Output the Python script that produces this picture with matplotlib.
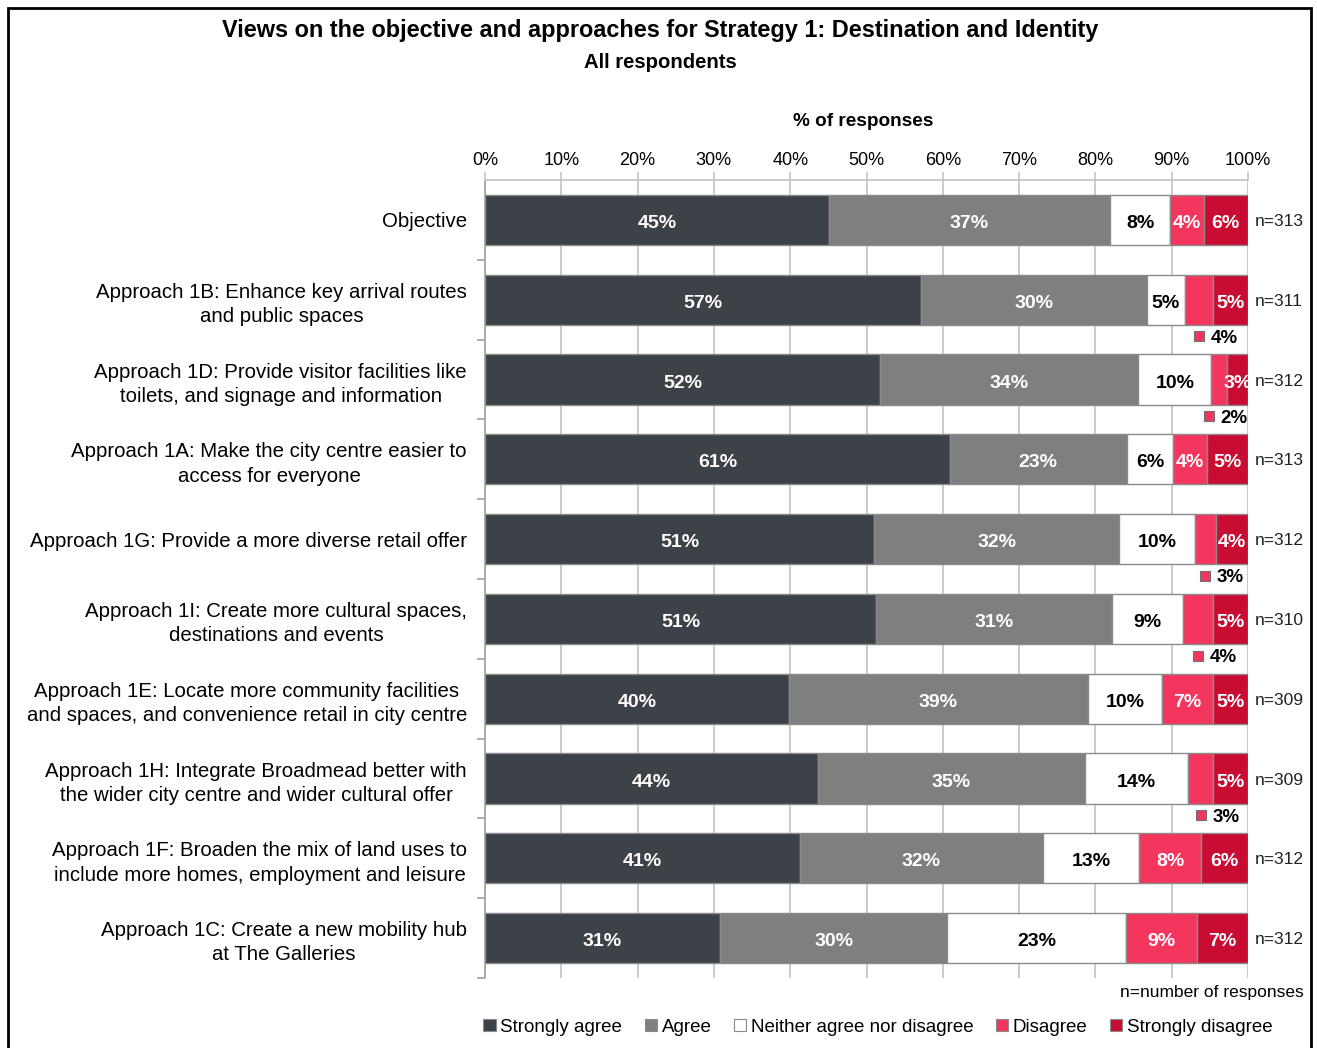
import matplotlib
matplotlib.use('Agg')
import matplotlib.pyplot as plt
from matplotlib.patches import Patch, Rectangle

plt.rcParams['font.family'] = ['Liberation Sans', 'DejaVu Sans']

statements = [
    'Objective',
    'Approach 1B: Enhance key arrival routes\nand public spaces',
    'Approach 1D: Provide visitor facilities like\ntoilets, and signage and information',
    'Approach 1A: Make the city centre easier to\naccess for everyone',
    'Approach 1G: Provide a more diverse retail offer',
    'Approach 1I: Create more cultural spaces,\ndestinations and events',
    'Approach 1E: Locate more community facilities\nand spaces, and convenience retail in city centre',
    'Approach 1H: Integrate Broadmead better with\nthe wider city centre and wider cultural offer',
    'Approach 1F: Broaden the mix of land uses to\ninclude more homes, employment and leisure',
    'Approach 1C: Create a new mobility hub\nat The Galleries',
]
n_responses = [313, 311, 312, 313, 312, 310, 309, 309, 312, 312]

# % of responses per statement
strongly_agree = [45.1, 57.1, 51.8, 60.9, 51.0, 51.3, 39.8, 43.7, 41.3, 30.8]
agree = [36.8, 29.6, 33.8, 23.2, 32.1, 30.9, 39.2, 34.9, 31.8, 29.8]
neither = [7.9, 5.1, 9.6, 6.1, 9.9, 9.3, 9.7, 13.6, 12.6, 23.4]
disagree = [4.4, 3.6, 2.0, 4.4, 2.8, 3.9, 6.7, 3.2, 8.2, 9.3]
strongly_disagree = [5.8, 4.6, 2.8, 5.4, 4.2, 4.6, 4.6, 4.6, 6.1, 6.7]

series = ['Strongly agree', 'Agree', 'Neither agree nor disagree', 'Disagree', 'Strongly disagree']
values = [strongly_agree, agree, neither, disagree, strongly_disagree]
colors = ['#3d4148', '#7f7f7f', '#ffffff', '#f4365e', '#c90c31']
text_colors = ['white', 'white', 'black', 'white', 'white']

fig = plt.figure(figsize=(13.17, 10.48), dpi=100)
ax = fig.add_axes([485 / 1317, 1 - 978 / 1048, 763 / 1317, 798 / 1048])

grid_col = '#c6c6c6'
ypos = list(range(len(statements)))
left = [0.0] * len(statements)
for vals, col, tcol, name in zip(values, colors, text_colors, series):
    ax.barh(ypos, vals, left=left, height=0.63, color=col, edgecolor='#8a8a8a',
            linewidth=1.0, zorder=3, label=name)
    for i, v in enumerate(vals):
        centre = left[i] + v / 2
        if name == 'Disagree' and v < 4:
            # small segment: label below the bar with a key square
            mx = min(centre, 94.9)
            ax.plot(mx, i + 0.46, marker='s', markersize=7, color=col,
                    markeredgecolor='#707070', markeredgewidth=0.8, zorder=4,
                    clip_on=False)
            ax.text(mx + 1.5, i + 0.46, f'{v:.0f}%', ha='left', va='center_baseline',
                    fontsize=13.5, fontweight='bold', color='black', zorder=4)
        else:
            ax.text(centre, i + 0.02, f'{v:.0f}%', ha='center', va='center_baseline',
                    fontsize=14, fontweight='bold', color=tcol, zorder=4,
                    clip_on=True)
    left = [l + v for l, v in zip(left, vals)]

for i, n in enumerate(n_responses):
    ax.text(100.9, i, f'n={n}', ha='left', va='center_baseline', fontsize=12.5,
            color='#222222')

ax.set_xlim(0, 100)
ax.set_ylim(len(statements) - 0.5, -0.5)

ax.xaxis.tick_top()
ax.set_xticks(range(0, 101, 10))
ax.set_xticklabels([f'{t}%' for t in range(0, 101, 10)], fontsize=13)
ax.tick_params(axis='x', length=6, width=1.2, color=grid_col, pad=2)
ax.grid(axis='x', color=grid_col, linewidth=1.3, zorder=0)
ax.set_axisbelow(True)

ax.set_yticks(ypos)
ax.set_yticklabels(statements, fontsize=14.7, linespacing=1.35,
                   multialignment='center')
ax.tick_params(axis='y', length=0, pad=13)
ax.set_yticks([y + 0.5 for y in ypos], minor=True)
ax.tick_params(axis='y', which='minor', length=6, width=1.2, color='#a0a0a0')
for lbl in ax.get_yticklabels():
    lbl.set_va('center_baseline')

for side in ['right', 'bottom']:
    ax.spines[side].set_visible(False)
ax.spines['top'].set_color(grid_col)
ax.spines['top'].set_linewidth(1.3)
ax.spines['left'].set_color('#a0a0a0')
ax.spines['left'].set_linewidth(1.2)

fig.text(660 / 1317, 1 - 30 / 1048, 'Views on the objective and approaches for Strategy 1: Destination and Identity',
         ha='center', va='center', fontsize=16.9, fontweight='bold')
fig.text(660 / 1317, 1 - 62 / 1048, 'All respondents', ha='center', va='center',
         fontsize=14.6, fontweight='bold')
fig.text(863 / 1317, 1 - 121 / 1048, '% of responses', ha='center', va='center',
         fontsize=13.7, fontweight='bold')
fig.text(1304 / 1317, 1 - 993 / 1048, 'n=number of responses', ha='right',
         va='center', fontsize=12.5)

handles = [Patch(facecolor=c, edgecolor='#8a8a8a', linewidth=0.8) for c in colors]
fig.legend(handles, series, loc='center', bbox_to_anchor=(878 / 1317, 1 - 1027 / 1048),
           ncol=5, frameon=False, fontsize=13.5, handlelength=0.65, handleheight=0.65,
           handletextpad=0.25, columnspacing=1.2, borderaxespad=0)

fig.patches.append(Rectangle((8 / 1317, -0.05), 1303 / 1317, 1.05 - 8 / 1048,
                             transform=fig.transFigure, fill=False,
                             edgecolor='black', linewidth=2))

fig.savefig('out.png', dpi=100)
